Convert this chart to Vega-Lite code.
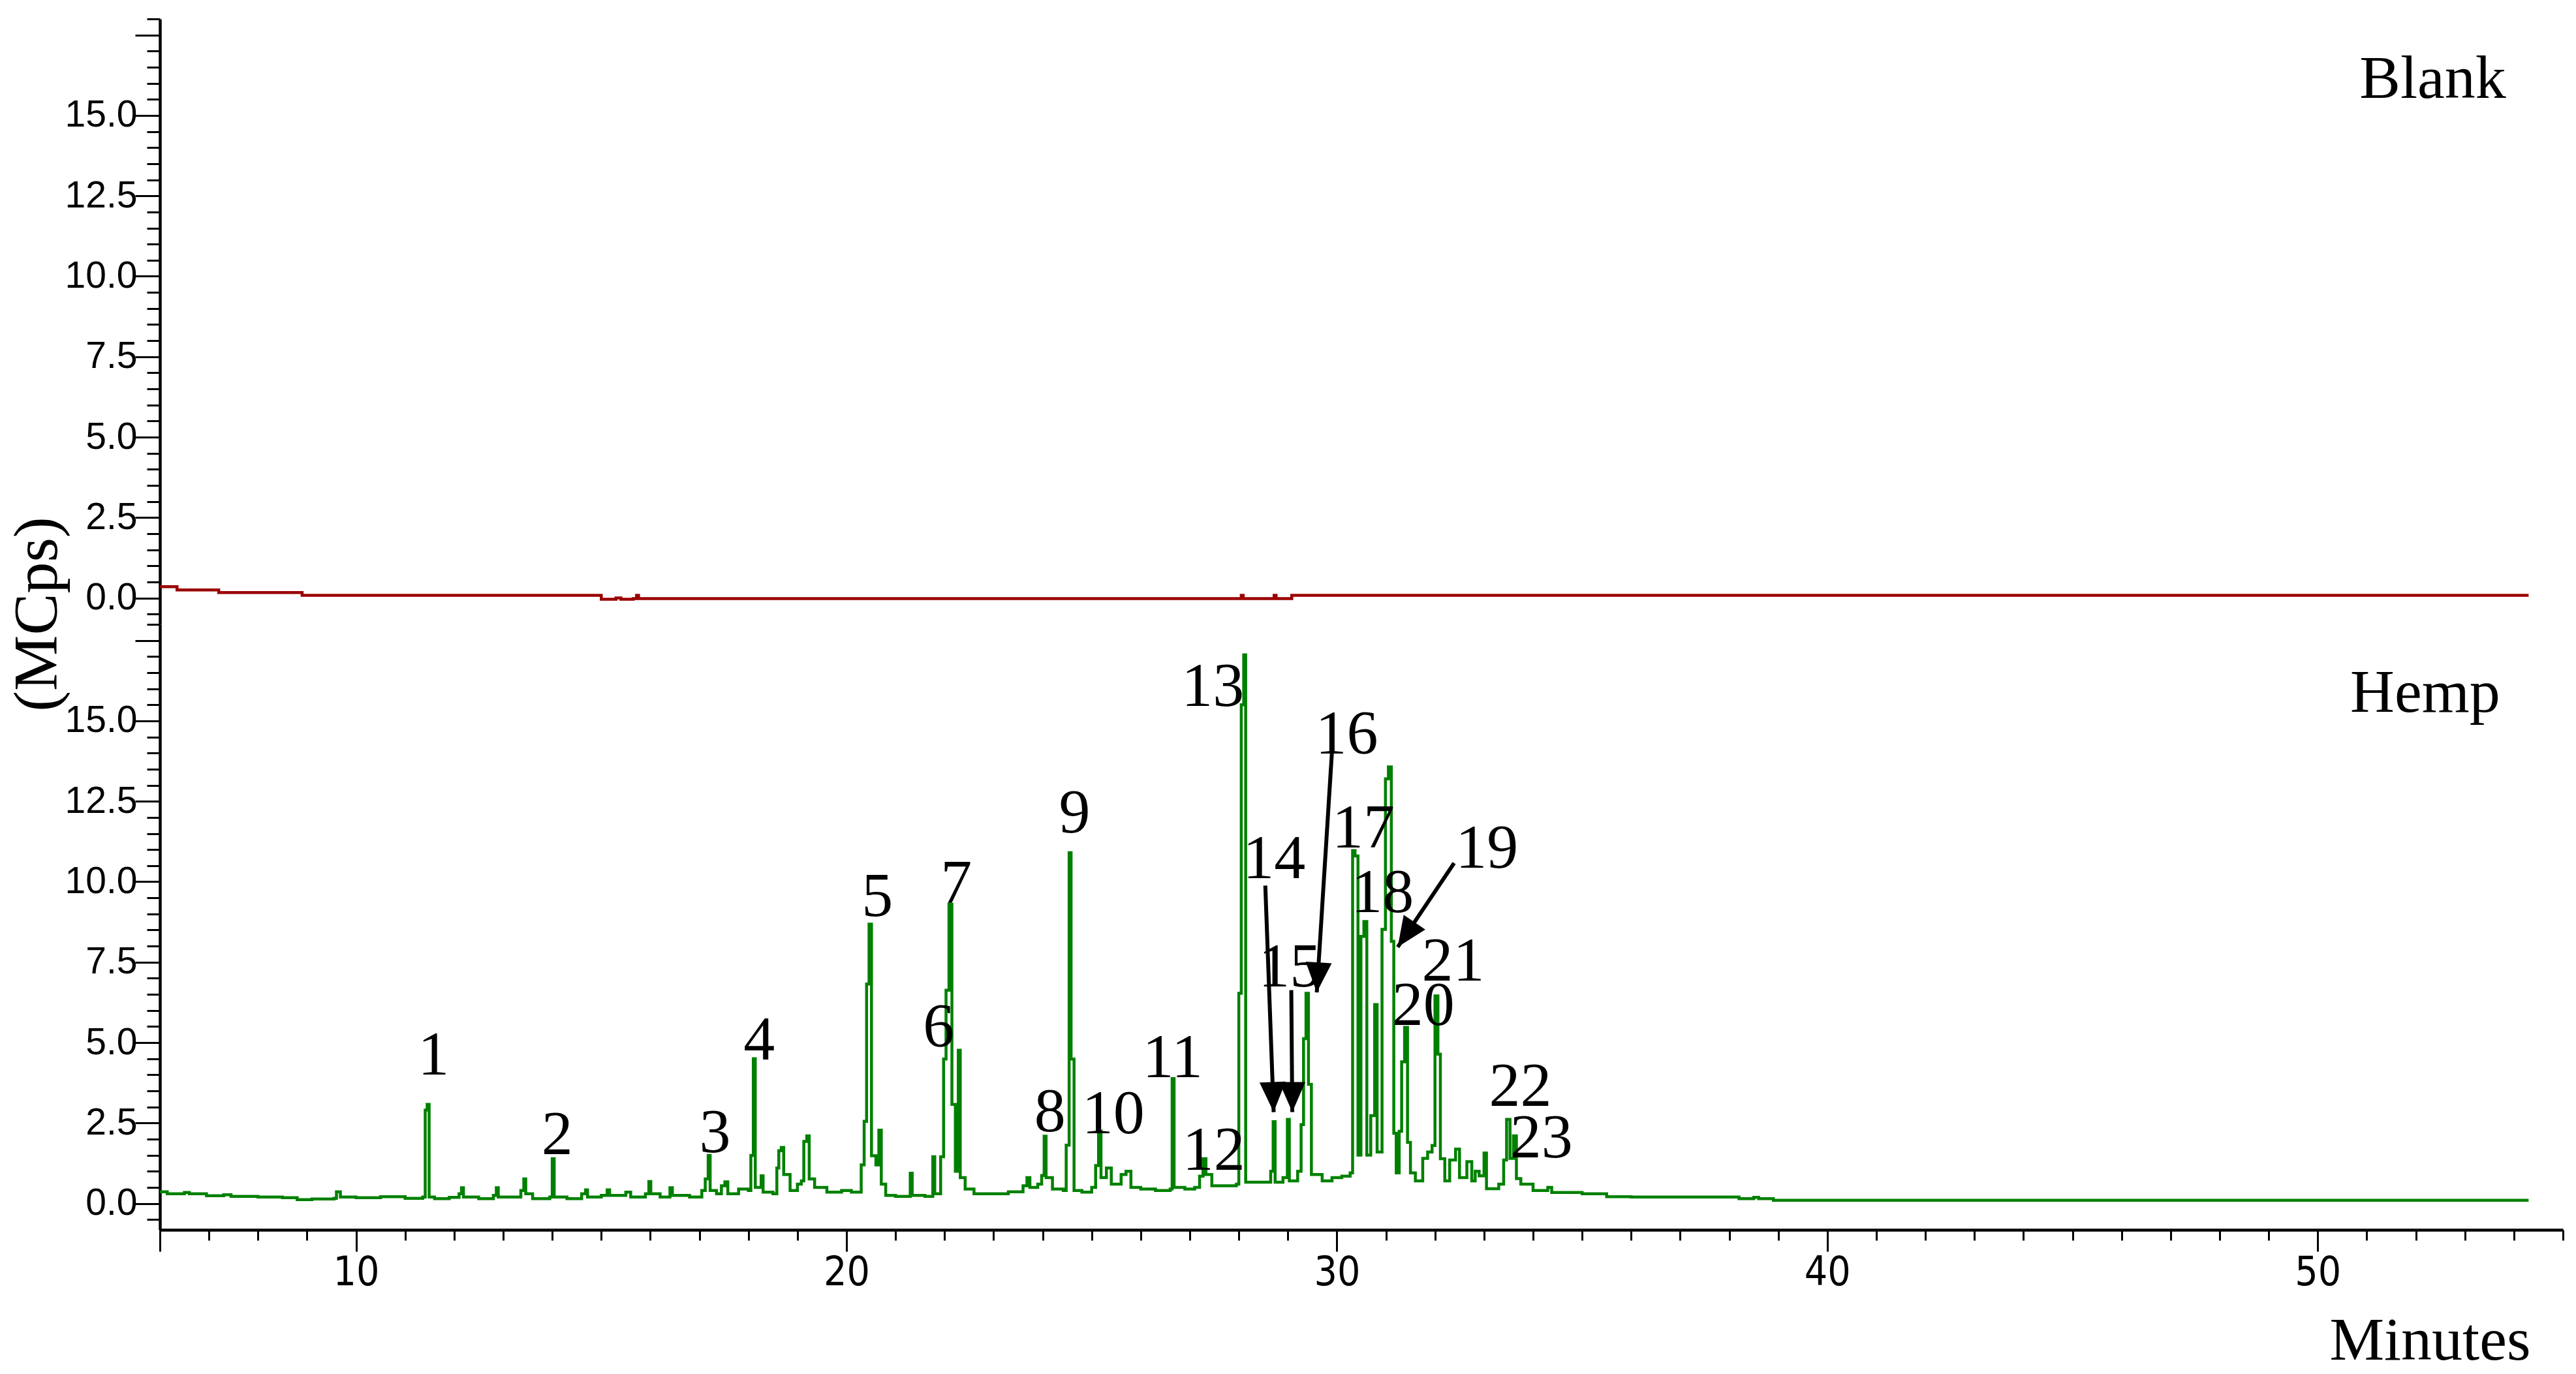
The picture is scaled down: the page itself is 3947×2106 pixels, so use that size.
{
"$schema": "https://vega.github.io/schema/vega-lite/v6.json",
"background": "white",
"padding": {"left": 9, "top": 27, "right": 0, "bottom": 0},
"spacing": 0,
"bounds": "flush",
"config": {"view": {"stroke": null}, "axis": {"grid": false, "domainColor": "black", "tickColor": "black", "labelColor": "black", "titleColor": "black"}},
"datasets": {
"blank": [{"t":6,"v":0.35},{"t":6.35,"v":0.25},{"t":7.2,"v":0.17},{"t":8.9,"v":0.08},{"t":15.0,"v":-0.04},{"t":15.3,"v":0.0},{"t":15.4,"v":-0.04},{"t":15.65,"v":-0.02},{"t":15.72,"v":0.08},{"t":15.76,"v":-0.02},{"t":28.05,"v":0.08},{"t":28.09,"v":-0.02},{"t":28.72,"v":0.08},{"t":28.76,"v":-0.02},{"t":29.08,"v":0.08},{"t":54.3,"v":0.08}],
"hemp": [{"t":6,"v":0.36},{"t":6.15,"v":0.3},{"t":6.5,"v":0.34},{"t":6.6,"v":0.3},{"t":6.95,"v":0.24},{"t":7.3,"v":0.27},{"t":7.45,"v":0.22},{"t":8.0,"v":0.2},{"t":8.5,"v":0.18},{"t":8.8,"v":0.12},{"t":9.1,"v":0.14},{"t":9.55,"v":0.16},{"t":9.6,"v":0.36},{"t":9.68,"v":0.2},{"t":10.0,"v":0.18},{"t":10.5,"v":0.21},{"t":11.0,"v":0.16},{"t":11.36,"v":0.2},{"t":11.41,"v":2.9},{"t":11.45,"v":3.08},{"t":11.49,"v":0.2},{"t":11.6,"v":0.15},{"t":11.9,"v":0.19},{"t":12.1,"v":0.3},{"t":12.15,"v":0.49},{"t":12.19,"v":0.2},{"t":12.5,"v":0.15},{"t":12.8,"v":0.25},{"t":12.86,"v":0.49},{"t":12.9,"v":0.2},{"t":13.2,"v":0.2},{"t":13.36,"v":0.4},{"t":13.42,"v":0.76},{"t":13.46,"v":0.3},{"t":13.6,"v":0.15},{"t":13.95,"v":0.2},{"t":14.0,"v":1.39},{"t":14.04,"v":0.2},{"t":14.3,"v":0.15},{"t":14.6,"v":0.3},{"t":14.68,"v":0.42},{"t":14.72,"v":0.2},{"t":15.0,"v":0.25},{"t":15.12,"v":0.42},{"t":15.17,"v":0.25},{"t":15.5,"v":0.35},{"t":15.6,"v":0.2},{"t":15.9,"v":0.3},{"t":15.97,"v":0.68},{"t":16.01,"v":0.3},{"t":16.2,"v":0.2},{"t":16.4,"v":0.49},{"t":16.45,"v":0.25},{"t":16.8,"v":0.2},{"t":17.05,"v":0.4},{"t":17.12,"v":0.76},{"t":17.18,"v":1.49},{"t":17.22,"v":0.4},{"t":17.35,"v":0.3},{"t":17.45,"v":0.55},{"t":17.52,"v":0.67},{"t":17.58,"v":0.3},{"t":17.8,"v":0.45},{"t":18.0,"v":0.4},{"t":18.05,"v":1.49},{"t":18.1,"v":4.5},{"t":18.14,"v":0.5},{"t":18.26,"v":0.86},{"t":18.3,"v":0.35},{"t":18.5,"v":0.3},{"t":18.58,"v":1.1},{"t":18.62,"v":1.64},{"t":18.67,"v":1.74},{"t":18.72,"v":0.9},{"t":18.85,"v":0.4},{"t":19.0,"v":0.6},{"t":19.08,"v":0.7},{"t":19.13,"v":1.93},{"t":19.19,"v":2.1},{"t":19.24,"v":0.76},{"t":19.35,"v":0.5},{"t":19.6,"v":0.35},{"t":19.9,"v":0.4},{"t":20.1,"v":0.35},{"t":20.3,"v":1.2},{"t":20.36,"v":2.55},{"t":20.41,"v":6.82},{"t":20.46,"v":8.68},{"t":20.51,"v":1.48},{"t":20.6,"v":1.2},{"t":20.66,"v":2.28},{"t":20.71,"v":0.6},{"t":20.8,"v":0.25},{"t":21.0,"v":0.22},{"t":21.3,"v":0.94},{"t":21.34,"v":0.25},{"t":21.6,"v":0.22},{"t":21.76,"v":1.45},{"t":21.8,"v":0.3},{"t":21.92,"v":1.45},{"t":21.98,"v":4.49},{"t":22.03,"v":6.63},{"t":22.09,"v":9.3},{"t":22.15,"v":3.08},{"t":22.22,"v":1.0},{"t":22.28,"v":4.76},{"t":22.32,"v":0.8},{"t":22.42,"v":0.45},{"t":22.6,"v":0.3},{"t":23.0,"v":0.3},{"t":23.3,"v":0.36},{"t":23.6,"v":0.55},{"t":23.68,"v":0.8},{"t":23.74,"v":0.5},{"t":23.9,"v":0.6},{"t":23.98,"v":0.87},{"t":24.03,"v":2.09},{"t":24.07,"v":0.8},{"t":24.2,"v":0.45},{"t":24.42,"v":0.4},{"t":24.48,"v":1.81},{"t":24.54,"v":10.9},{"t":24.58,"v":4.49},{"t":24.64,"v":0.4},{"t":24.8,"v":0.35},{"t":25.0,"v":0.5},{"t":25.08,"v":1.18},{"t":25.14,"v":2.25},{"t":25.19,"v":0.8},{"t":25.3,"v":1.1},{"t":25.4,"v":0.6},{"t":25.6,"v":0.9},{"t":25.7,"v":1.0},{"t":25.8,"v":0.5},{"t":26.0,"v":0.45},{"t":26.3,"v":0.4},{"t":26.6,"v":0.45},{"t":26.64,"v":3.88},{"t":26.68,"v":0.5},{"t":26.9,"v":0.45},{"t":27.1,"v":0.5},{"t":27.2,"v":0.85},{"t":27.27,"v":1.39},{"t":27.33,"v":0.9},{"t":27.45,"v":0.55},{"t":27.8,"v":0.55},{"t":27.95,"v":0.6},{"t":28.0,"v":6.53},{"t":28.05,"v":15.5},{"t":28.1,"v":17.05},{"t":28.14,"v":0.66},{"t":28.5,"v":0.66},{"t":28.65,"v":1.0},{"t":28.7,"v":2.54},{"t":28.74,"v":0.66},{"t":28.9,"v":0.8},{"t":28.99,"v":2.61},{"t":29.03,"v":0.7},{"t":29.2,"v":1.0},{"t":29.27,"v":2.45},{"t":29.32,"v":5.12},{"t":29.37,"v":6.53},{"t":29.42,"v":3.7},{"t":29.48,"v":0.9},{"t":29.7,"v":0.7},{"t":29.9,"v":0.8},{"t":30.1,"v":0.85},{"t":30.27,"v":0.95},{"t":30.32,"v":10.97},{"t":30.37,"v":10.8},{"t":30.43,"v":1.5},{"t":30.49,"v":8.3},{"t":30.55,"v":8.76},{"t":30.61,"v":1.5},{"t":30.69,"v":2.73},{"t":30.77,"v":6.18},{"t":30.82,"v":1.6},{"t":30.92,"v":8.52},{"t":30.99,"v":13.2},{"t":31.05,"v":13.57},{"t":31.11,"v":8.15},{"t":31.16,"v":2.18},{"t":31.21,"v":0.95},{"t":31.27,"v":2.24},{"t":31.32,"v":4.4},{"t":31.38,"v":5.47},{"t":31.44,"v":1.9},{"t":31.5,"v":0.95},{"t":31.6,"v":0.7},{"t":31.75,"v":1.4},{"t":31.85,"v":1.6},{"t":31.94,"v":1.8},{"t":32.0,"v":6.45},{"t":32.06,"v":4.64},{"t":32.11,"v":1.39},{"t":32.2,"v":0.7},{"t":32.3,"v":1.35},{"t":32.42,"v":1.69},{"t":32.5,"v":0.8},{"t":32.65,"v":1.3},{"t":32.75,"v":0.7},{"t":32.82,"v":1.0},{"t":32.9,"v":0.86},{"t":33.0,"v":1.57},{"t":33.05,"v":0.46},{"t":33.3,"v":0.6},{"t":33.4,"v":1.35},{"t":33.46,"v":2.61},{"t":33.53,"v":1.4},{"t":33.6,"v":2.1},{"t":33.66,"v":0.77},{"t":33.75,"v":0.6},{"t":34.0,"v":0.4},{"t":34.3,"v":0.5},{"t":34.38,"v":0.34},{"t":35.0,"v":0.3},{"t":35.5,"v":0.21},{"t":36.0,"v":0.2},{"t":38.2,"v":0.15},{"t":38.5,"v":0.19},{"t":38.6,"v":0.15},{"t":38.9,"v":0.1},{"t":54.3,"v":0.1}],
"peaklabels": [{"label":"1","t":11.58,"v":4.0},{"label":"2","t":14.1,"v":1.53},{"label":"3","t":17.32,"v":1.6},{"label":"4","t":18.22,"v":4.48},{"label":"5","t":20.63,"v":8.93},{"label":"6","t":21.88,"v":4.87},{"label":"7","t":22.24,"v":9.35},{"label":"8","t":24.15,"v":2.25},{"label":"9","t":24.65,"v":11.53},{"label":"10","t":25.44,"v":2.18},{"label":"11","t":26.65,"v":3.93},{"label":"12","t":27.49,"v":1.04},{"label":"13","t":27.47,"v":15.46},{"label":"14","t":28.72,"v":10.12},{"label":"15","t":29.04,"v":6.75},{"label":"16","t":30.2,"v":13.98},{"label":"17","t":30.54,"v":11.06},{"label":"18","t":30.93,"v":9.05},{"label":"19","t":33.06,"v":10.43},{"label":"20","t":31.76,"v":5.54},{"label":"21","t":32.37,"v":6.92},{"label":"22","t":33.74,"v":3.04},{"label":"23","t":34.17,"v":1.44}],
"arrows": [{"id":"14","t":28.54,"v":9.88,"t2":28.71,"v2":2.84},{"id":"15","t":29.07,"v":6.63,"t2":29.09,"v2":2.84},{"id":"16","t":29.9,"v":14.06,"t2":29.59,"v2":6.56},{"id":"19","t":32.39,"v":10.58,"t2":31.24,"v2":7.97}],
"panels": [{"panel":"Blank","t":53.84,"v":15.55},{"panel":"Hemp","t":53.72,"v":15.28}]
},
"vconcat": [
{
"width": 3682, "height": 928,
"resolve": {"axis": {"y": "independent"}},
"layer": [
{"data": {"name": "blank"},
 "mark": {"type": "line", "interpolate": "step-after", "color": "#9b0000", "strokeWidth": 4.5},
 "encoding": {
  "x": {"field": "t", "type": "quantitative", "scale": {"domain": [6, 55], "nice": false, "zero": false},
        "axis": {"orient": "bottom", "domain": true, "domainWidth": 5, "ticks": false, "labels": false, "title": null}},
  "y": {"field": "v", "type": "quantitative", "scale": {"domain": [-0.82, 18], "nice": false, "zero": false},
        "axis": {"orient": "left", "values": [0, 2.5, 5, 7.5, 10, 12.5, 15, 17.5], "tickSize": 38, "tickWidth": 3, "domainWidth": 4.5, "format": ".1f", "labelExpr": "datum.value > 16 ? '' : datum.label", "labelFont": "Liberation Sans", "labelFontSize": 57, "labelPadding": -3,
                 "title": "(MCps)", "titleFont": "Liberation Serif", "titleFontSize": 96, "titleFontWeight": "normal", "titleAngle": -90, "titleX": -188, "titleY": 912, "titleBaseline": "middle", "titleAlign": "center"}}
 }},
{"data": {"name": "blank"},
 "mark": {"type": "line", "opacity": 0},
 "encoding": {
  "x": {"field": "t", "type": "quantitative", "axis": null},
  "y": {"field": "v", "type": "quantitative",
        "axis": {"orient": "left", "values": [-0.5,0,0.5,1,1.5,2,2.5,3,3.5,4,4.5,5,5.5,6,6.5,7,7.5,8,8.5,9,9.5,10,10.5,11,11.5,12,12.5,13,13.5,14,14.5,15,15.5,16,16.5,17,17.5,18], "tickSize": 20, "tickWidth": 3, "domain": false, "labels": false, "title": null}}
 }},
{"data": {"name": "panels"},
 "transform": [{"filter": "datum.panel == 'Blank'"}],
 "mark": {"type": "text", "align": "right", "baseline": "alphabetic", "font": "Liberation Serif", "fontSize": 94, "color": "black"},
 "encoding": {
  "x": {"field": "t", "type": "quantitative", "axis": null},
  "y": {"field": "v", "type": "quantitative", "axis": null},
  "text": {"field": "panel"}
 }}
]
},
{
"width": 3682, "height": 928,
"resolve": {"axis": {"y": "independent", "x": "independent"}},
"layer": [
{"data": {"name": "hemp"},
 "mark": {"type": "line", "interpolate": "step-after", "color": "#008000", "strokeWidth": 4.5},
 "encoding": {
  "x": {"field": "t", "type": "quantitative", "scale": {"domain": [6, 55], "nice": false, "zero": false},
        "axis": {"orient": "bottom", "values": [6, 10, 20, 30, 40, 50], "tickSize": 33, "tickWidth": 3, "domainWidth": 4.5, "labelExpr": "datum.value == 6 ? '' : datum.label", "labelFont": "Liberation Sans Narrow, Arial Narrow, DejaVu Sans Condensed, sans-serif", "labelFontSize": 62, "labelPadding": 2,
                 "title": "Minutes", "titleFont": "Liberation Serif", "titleFontSize": 94, "titleFontWeight": "normal", "titleX": 3632, "titleY": 198, "titleAlign": "right", "titleBaseline": "alphabetic"}},
  "y": {"field": "v", "type": "quantitative", "scale": {"domain": [-0.82, 18], "nice": false, "zero": false},
        "axis": {"orient": "left", "values": [0, 2.5, 5, 7.5, 10, 12.5, 15, 17.5], "tickSize": 38, "tickWidth": 3, "domainWidth": 4.5, "format": ".1f", "labelExpr": "datum.value > 16 ? '' : datum.label", "labelFont": "Liberation Sans", "labelFontSize": 57, "labelPadding": -3, "title": null}}
 }},
{"data": {"name": "hemp"},
 "mark": {"type": "line", "opacity": 0},
 "encoding": {
  "x": {"field": "t", "type": "quantitative",
        "axis": {"orient": "bottom", "values": [6,7,8,9,10,11,12,13,14,15,16,17,18,19,20,21,22,23,24,25,26,27,28,29,30,31,32,33,34,35,36,37,38,39,40,41,42,43,44,45,46,47,48,49,50,51,52,53,54,55], "tickSize": 16, "tickWidth": 3, "domain": false, "labels": false, "title": null}},
  "y": {"field": "v", "type": "quantitative",
        "axis": {"orient": "left", "values": [-0.5,0,0.5,1,1.5,2,2.5,3,3.5,4,4.5,5,5.5,6,6.5,7,7.5,8,8.5,9,9.5,10,10.5,11,11.5,12,12.5,13,13.5,14,14.5,15,15.5,16,16.5,17,17.5,18], "tickSize": 20, "tickWidth": 3, "domain": false, "labels": false, "title": null}}
 }},
{"data": {"name": "peaklabels"},
 "mark": {"type": "text", "align": "center", "baseline": "alphabetic", "font": "Liberation Serif", "fontSize": 96, "color": "black"},
 "encoding": {
  "x": {"field": "t", "type": "quantitative", "axis": null},
  "y": {"field": "v", "type": "quantitative", "axis": null},
  "text": {"field": "label"}
 }},
{"data": {"name": "panels"},
 "transform": [{"filter": "datum.panel == 'Hemp'"}],
 "mark": {"type": "text", "align": "right", "baseline": "alphabetic", "font": "Liberation Serif", "fontSize": 94, "color": "black"},
 "encoding": {
  "x": {"field": "t", "type": "quantitative", "axis": null},
  "y": {"field": "v", "type": "quantitative", "axis": null},
  "text": {"field": "panel"}
 }},
{"data": {"name": "arrows"},
 "mark": {"type": "rule", "color": "black", "strokeWidth": 6},
 "encoding": {
  "x": {"field": "t", "type": "quantitative", "axis": null},
  "y": {"field": "v", "type": "quantitative", "axis": null},
  "x2": {"field": "t2"},
  "y2": {"field": "v2"}
 }},
{"data": {"name": "arrows"},
 "mark": {"type": "point", "shape": "M0,0L-0.87,-2L0.87,-2Z", "filled": true, "color": "black", "opacity": 1, "size": 2116, "strokeWidth": 0},
 "encoding": {
  "x": {"field": "t2", "type": "quantitative", "axis": null},
  "y": {"field": "v2", "type": "quantitative", "axis": null},
  "angle": {"condition": [{"test": "datum.id == '19'", "value": 34}, {"test": "datum.id == '16'", "value": 3.6}, {"test": "datum.id == '14'", "value": -2}], "value": 0}
 }}
]
}
]
}
